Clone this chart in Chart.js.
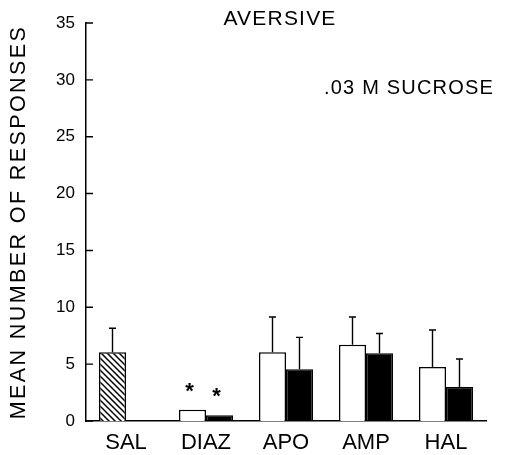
<!DOCTYPE html>
<html>
<head>
<meta charset="utf-8">
<script src="https://cdn.jsdelivr.net/npm/chart.js@4.4.1/dist/chart.umd.min.js"></script>
<style>
  html, body { margin: 0; padding: 0; background: #fff; }
  #wrap { width: 520px; height: 455px; }
</style>
</head>
<body>
<div id="wrap"><canvas id="chart"></canvas></div>
<script>
const drugs = ["SAL", "DIAZ", "APO", "AMP", "HAL"];
const openMeans = [6.05, 1.0, 6.05, 6.7, 4.75];
const openErrs = [2.1, 0, 3.1, 2.45, 3.25];
const filledMeans = [null, 0.5, 4.55, 5.95, 3.0];
const filledErrs = [null, 0, 2.8, 1.75, 2.45];
const openStars = [false, true, false, false, false];
const filledStars = [false, true, false, false, false];
const yTicks = [0, 5, 10, 15, 20, 25, 30, 35];

const FONT = "'Liberation Sans', Arial, sans-serif";

// diagonal hatch for the saline bar
function hatch() {
  const n = 6;
  const c = document.createElement("canvas");
  c.width = n;
  c.height = n;
  const g = c.getContext("2d");
  g.fillStyle = "#fff";
  g.fillRect(0, 0, n, n);
  g.strokeStyle = "#000";
  g.lineWidth = 1.5;
  g.beginPath();
  g.moveTo(-1, -1); g.lineTo(n + 1, n + 1);
  g.moveTo(-1, n - 1); g.lineTo(1, n + 1);
  g.moveTo(n - 1, -1); g.lineTo(n + 1, 1);
  g.stroke();
  return g.createPattern(c, "repeat");
}

const openColors = drugs.map((d, i) => (i === 0 ? hatch() : "#fff"));

// error bars (upward only) and significance stars
const errorBars = {
  id: "errorBars",
  afterDatasetsDraw(chart) {
    const ctx = chart.ctx;
    const y = chart.scales.y;
    ctx.save();
    ctx.strokeStyle = "#000";
    ctx.lineWidth = 1.4;
    chart.data.datasets.forEach((ds, i) => {
      chart.getDatasetMeta(i).data.forEach((bar, j) => {
        const e = ds.errors[j];
        if (e) {
          const top = y.getPixelForValue(ds.data[j] + e);
          ctx.beginPath();
          ctx.moveTo(bar.x, bar.y);
          ctx.lineTo(bar.x, top);
          ctx.moveTo(bar.x - 3.5, top);
          ctx.lineTo(bar.x + 3.5, top);
          ctx.stroke();
        }
        if (ds.stars[j]) {
          ctx.fillStyle = "#000";
          ctx.font = "bold 22px " + FONT;
          ctx.textAlign = "center";
          ctx.textBaseline = "middle";
          ctx.fillText("*", bar.x - 3, bar.y - 18);
        }
      });
    });
    ctx.restore();
  },
  afterDraw(chart) {
    const ctx = chart.ctx;
    const y = chart.scales.y;
    const a = chart.chartArea;
    ctx.save();
    // inward tick marks
    ctx.strokeStyle = "#000";
    ctx.lineWidth = 1.4;
    ctx.beginPath();
    yTicks.forEach(v => {
      const p = y.getPixelForValue(v);
      ctx.moveTo(a.left, p);
      ctx.lineTo(a.left + 7, p);
    });
    ctx.stroke();

    ctx.fillStyle = "#000";
    ctx.textBaseline = "middle";
    ctx.letterSpacing = "1.2px";
    ctx.font = "21px " + FONT;
    ctx.textAlign = "center";
    ctx.fillText("AVERSIVE", 280, 19);
    ctx.letterSpacing = "1.2px";
    ctx.font = "20px " + FONT;
    ctx.textAlign = "left";
    ctx.fillText(".03 M SUCROSE", 324, 88);

    ctx.translate(19, 222);
    ctx.rotate(-Math.PI / 2);
    ctx.textAlign = "center";
    ctx.letterSpacing = "2.4px";
    ctx.font = "21.5px " + FONT;
    ctx.fillText("MEAN NUMBER OF RESPONSES", 0, 0);
    ctx.restore();
  }
};

new Chart(document.getElementById("chart"), {
  type: "bar",
  data: {
    labels: drugs,
    datasets: [
      {
        data: openMeans,
        errors: openErrs,
        stars: openStars,
        backgroundColor: openColors,
        borderColor: "#000",
        borderWidth: 1.5
      },
      {
        data: filledMeans,
        errors: filledErrs,
        stars: filledStars,
        backgroundColor: "#000",
        borderColor: "#000",
        borderWidth: 1.5
      }
    ]
  },
  options: {
    responsive: true,
    maintainAspectRatio: false,
    animation: false,
    categoryPercentage: 0.675,
    barPercentage: 1.0,
    layout: { padding: { top: 23, right: 34, bottom: 0, left: 0 } },
    plugins: {
      legend: { display: false },
      tooltip: { enabled: false }
    },
    scales: {
      x: {
        grid: { display: false, drawTicks: false },
        border: { color: "#000", width: 1.5 },
        ticks: {
          color: "#000",
          padding: 9,
          font: { family: FONT, size: 22 }
        },
        afterFit: s => { s.height = 34; }
      },
      y: {
        min: 0,
        max: 35,
        grid: { display: false, drawTicks: false },
        border: { color: "#000", width: 1.5 },
        ticks: {
          stepSize: 5,
          color: "#000",
          padding: 11,
          font: { family: FONT, size: 17 }
        },
        afterFit: s => { s.width = 86; }
      }
    }
  },
  plugins: [errorBars]
});
</script>
</body>
</html>
